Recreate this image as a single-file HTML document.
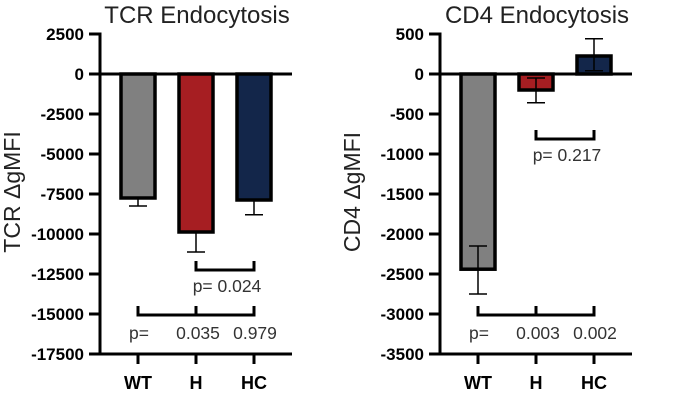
<!DOCTYPE html>
<html><head><meta charset="utf-8"><style>
body{margin:0;background:#fff;}
svg{display:block;font-family:"Liberation Sans",Arial,sans-serif;}
.tick{font-weight:bold;font-size:17px;fill:#000;}
.xt{font-weight:bold;font-size:18px;fill:#000;}
.ttl{font-size:24px;fill:#222;}
.yttl{font-size:23px;fill:#222;}
.pv{font-size:17.5px;fill:#333;}
</style></head><body>
<svg id="c" width="693" height="407"></svg>
<script>
const categories = ["WT","H","HC"];
const colors = ["#808080","#a61e22","#13264a"];
const tcrValues = [-7750, -9875, -7875];
const tcrErrHi = [0, 0, 0];
const tcrErrLo = [500, 1250, 925];
const tcrTicks = [2500,0,-2500,-5000,-7500,-10000,-12500,-15000,-17500];
const cd4Values = [-2440, -200, 225];
const cd4ErrHi = [290, 150, 215];
const cd4ErrLo = [310, 160, 185];
const cd4Ticks = [500,0,-500,-1000,-1500,-2000,-2500,-3000,-3500];

const svg = document.getElementById('c');
const NS = "http://www.w3.org/2000/svg";
function mk(tag, attrs, parent, text){
  const e = document.createElementNS(NS, tag);
  for (const k in attrs) e.setAttribute(k, attrs[k]);
  if (text !== undefined) e.textContent = text;
  (parent||svg).appendChild(e);
  return e;
}

function drawChart(ox, name, title, ytitle, vals, errHi, errLo, ticks, pUpper, pLower, upperBracketY){
  const g = mk('g', {});
  
  
  const yMax = ticks[0], yMin = ticks[ticks.length-1];
  const y = v => 34 + (yMax - v) / (yMax - yMin) * 320;
  const xc = i => ox + 138 + i * 58;
  const ax = ox + 100;
  const t = mk('text', {x: ox+197, y: 23, 'text-anchor':'middle', class:'ttl'}, g, title);
  
  
  const yt = mk('text', {x: 0, y: 0, 'text-anchor':'middle', class:'yttl', transform:`translate(${ox+20},${192}) rotate(-90)`}, g, ytitle);
  
  
  vals.forEach((v,i)=>{
    const top = Math.min(y(v), y(0)), h = Math.abs(y(v)-y(0));
    const b = mk('rect', {x: xc(i)-17, y: top, width: 34, height: h, fill: colors[i], stroke:'#000', 'stroke-width':3.5}, g);
    
    
    const e1 = y(v + errHi[i]), e2 = y(v - errLo[i]);
    let d = `M${xc(i)},${e1}V${e2}M${xc(i)-9},${e2}H${xc(i)+9}`;
    if (errHi[i] > 0) d += `M${xc(i)-9},${e1}H${xc(i)+9}`;
    const eb = mk('path', {d:d, stroke:'#000', 'stroke-width':1.5, fill:'none'}, g);
    
    
  });
  const ya = mk('line', {x1:ax, y1:y(yMax)-1.5, x2:ax, y2:y(yMin)+1.5, stroke:'#000', 'stroke-width':3}, g);
  
  
  ticks.forEach(tv=>{
    mk('line', {x1:ax-11, y1:y(tv), x2:ax, y2:y(tv), stroke:'#000', 'stroke-width':3}, g);
    const tl = mk('text', {x: ax-16, y: y(tv)+6, 'text-anchor':'end', class:'tick'}, g, String(tv));
    
    
  });
  const zl = mk('line', {x1:ax, y1:y(0), x2:ox+292, y2:y(0), stroke:'#000', 'stroke-width':3}, g);
  
  
  const xa = mk('line', {x1:ax, y1:y(yMin), x2:ox+292, y2:y(yMin), stroke:'#000', 'stroke-width':3}, g);
  
  
  categories.forEach((c,i)=>{
    mk('line', {x1:xc(i), y1:y(yMin), x2:xc(i), y2:y(yMin)+10, stroke:'#000', 'stroke-width':3}, g);
    const xl = mk('text', {x: xc(i), y: 389, 'text-anchor':'middle', class:'xt'}, g, c);
    
    
  });
  const ub = upperBracketY;
  const br1 = mk('path', {d:`M${xc(1)},${ub}V${ub+9}H${xc(2)}V${ub}`, stroke:'#000', 'stroke-width':3, fill:'none'}, g);
  
  
  const p1 = mk('text', {x: xc(1)+31, y: ub+31, 'text-anchor':'middle', class:'pv'}, g, pUpper);
  
  
  const br2 = mk('path', {d:`M${xc(0)},306V315H${xc(2)}V306M${xc(1)},306V315`, stroke:'#000', 'stroke-width':3, fill:'none'}, g);
  
  
  const pl = [["p=", xc(0)+1], [pLower[0], xc(1)+2], [pLower[1], xc(2)+1]];
  pl.forEach(([s,x])=>{
    const e = mk('text', {x:x, y:339, 'text-anchor':'middle', class:'pv'}, g, s);
    
    
  });
}
drawChart(0, 'tcr-chart', 'TCR Endocytosis', 'TCR \u0394gMFI', tcrValues, tcrErrHi, tcrErrLo, tcrTicks, 'p= 0.024', ['0.035','0.979'], 261);
drawChart(340, 'cd4-chart', 'CD4 Endocytosis', 'CD4  \u0394gMFI', cd4Values, cd4ErrHi, cd4ErrLo, cd4Ticks, 'p= 0.217', ['0.003','0.002'], 130);
</script>
</body></html>
